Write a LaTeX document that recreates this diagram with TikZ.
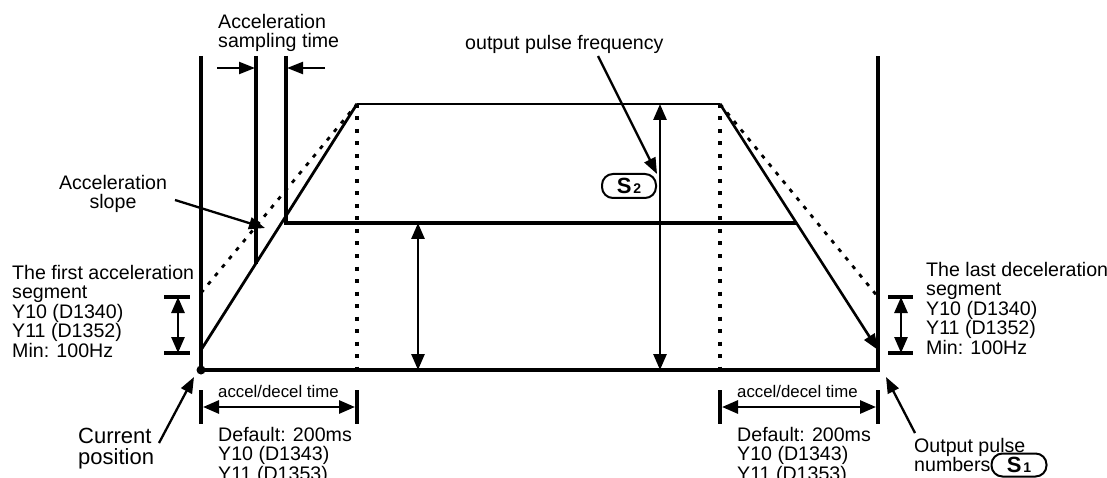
\documentclass[tikz,border=0pt]{standalone}
\usepackage{fontspec}
\setmainfont{Liberation Sans}
\usetikzlibrary{arrows.meta,positioning,calc}

\begin{document}
\begin{tikzpicture}[x=1pt, y=-1pt,
  lbl/.style={font=\fontsize{19.6}{19.5}\selectfont, align=left, inner sep=0pt, anchor=north west},
  small/.style={font=\fontsize{16.8}{18}\selectfont, inner sep=0pt, anchor=north west},
  bar/.style={line width=3.2pt},
  thinbar/.style={line width=2.4pt},
  dots/.style={line width=3.6pt, dash pattern=on 4pt off 8.5pt},
  sdots/.style={line width=2.8pt, dash pattern=on 4pt off 7pt},
  arr/.style={-{Triangle[length=16pt,width=12pt]}, line width=2.3pt},
  dbl/.style={{Triangle[length=16pt,width=13pt]}-{Triangle[length=16pt,width=13pt]}, line width=2.8pt},
  pill/.style={draw, line width=2pt, rounded corners=11pt, minimum width=54pt, minimum height=24pt, inner sep=0pt}
]
\useasboundingbox (0,0) rectangle (1107,478);

% profile corners
\coordinate (o) at (201,370);
\coordinate (e) at (878,370);
\coordinate (acc0) at (201,350);
\coordinate (acc1) at (357,104);
\coordinate (dec0) at (720,104);
\coordinate (dec1) at (878,350);

% frame and guides
\draw[bar] (201,56) -- (o) -- (e) -- (878,56);
\draw[bar] (256,56) -- (256,264);
\draw[bar] (286,56) -- (286,223) -- (796,223);
\draw[dots] (acc1) -- (357,370);
\draw[dots] (dec0) -- (720,370);
\draw[sdots] (201,293) -- (acc1);
\draw[sdots] (dec0) -- (878,297);

% trapezoid
\draw[thinbar] (acc1) -- (dec0);
\draw[line width=2.8pt] (acc0) -- (acc1);
\draw[arr, line width=2.6pt] (dec0) -- (dec1);
\fill (o) circle (4.5pt);

% heights
\draw[dbl] (418,223) -- (418,370);
\draw[dbl] (660,104) -- (660,370);

% sampling time
\node[lbl] (samp) at (218,14) {Acceleration\\sampling time};
\draw[arr] (217,68) -- (255,68);
\draw[arr] (325,68) -- (287,68);

% slope label
\node[lbl, anchor=north, align=center] (slope) at (113,175) {Acceleration\\slope};
\coordinate (slopetip) at (265,228);
\draw[arr] (175,200) -- (slopetip);

% frequency label
\node[lbl] (freq) at (465,35) {output pulse frequency};
\node[pill] (s2) at (629,186) {{\fontsize{22}{22}\selectfont\bfseries S}\,{\fontsize{14}{14}\selectfont\bfseries 2}};
\coordinate (freqtip) at (657,174);
\draw[arr] (598,56) -- (freqtip);

% first segment
\node[lbl] (first) at (12,265) {The first acceleration\\segment\\Y10 (D1340)\\Y11 (D1352)\\Min: 100Hz};
\draw[bar] (164,297) -- (190,297);
\draw[bar] (164,353) -- (190,353);
\draw[dbl] (178,297) -- (178,353);

% last segment
\node[lbl] (last) at (926,262) {The last deceleration\\segment\\Y10 (D1340)\\Y11 (D1352)\\Min: 100Hz};
\draw[bar] (888,297) -- (913,297);
\draw[bar] (888,353) -- (913,353);
\draw[dbl] (901,297) -- (901,353);

% current position
\node[lbl, font=\fontsize{22}{21}\selectfont] (cur) at (78,428) {Current\\position};
\coordinate (curtip) at (194,377);
\draw[arr] (159,443) -- (curtip);

% output pulse numbers
\node[lbl] (num) at (914,438) {Output pulse\\numbers};
\node[pill, minimum width=55pt, minimum height=23pt] (s1) at (1019,465) {{\fontsize{22}{22}\selectfont\bfseries S}\,{\fontsize{14}{14}\selectfont\bfseries 1}};
\coordinate (numtip) at (886,377);
\draw[arr] (915,433) -- (numtip);

% accel/decel time, left
\draw[bar] (201,390) -- (201,424);
\draw[bar] (357,390) -- (357,424);
\draw[dbl] (203,407) -- (355,407);
\node[small] (tl) at (218,385) {accel/decel time};
\node[lbl] (dl) at (218,427) {Default: 200ms\\Y10 (D1343)\\Y11 (D1353)};

% accel/decel time, right
\draw[bar] (720,390) -- (720,424);
\draw[bar] (878,390) -- (878,424);
\draw[dbl] (722,407) -- (876,407);
\node[small] (tr) at (737,385) {accel/decel time};
\node[lbl] (dr) at (737,427) {Default: 200ms\\Y10 (D1343)\\Y11 (D1353)};
\end{tikzpicture}
\end{document}
